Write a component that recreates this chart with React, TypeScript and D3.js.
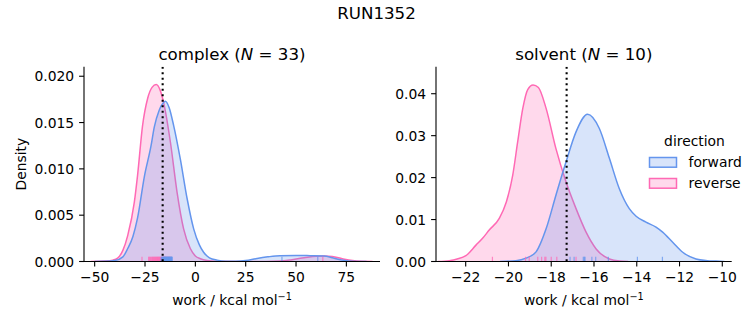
import React from "react";
import * as d3 from "d3";

const BLUE = "#6495ED";
const PINK = "#FF69B4";
const FONT = "DejaVu Sans, sans-serif";
const TEXT = "#000000";

// ---------- data ----------
const suptitle = "RUN1352";
const directions = ["forward", "reverse"];

// complex panel: KDE curves [work, density]
const complexForwardKde: [number, number][] = [
  [-50, 0], [-45, 0.00002], [-40, 0.0001], [-36, 0.0005], [-33.6, 0.0014], [-31, 0.0027],
  [-28.7, 0.0047], [-25.3, 0.0092], [-22, 0.0125], [-20.4, 0.0145], [-18, 0.0163],
  [-16, 0.0171], [-14.9, 0.0173], [-13, 0.0166], [-10.8, 0.0147], [-7.5, 0.0111],
  [-4.1, 0.0068], [-0.8, 0.0035], [2, 0.0018], [4.1, 0.001], [7, 0.0004], [10.8, 0.00015],
  [15, 0.00004], [20, 0.00003], [25, 0.0001], [30, 0.0003], [36, 0.0005], [42, 0.00063],
  [50, 0.00065], [57, 0.00063], [64, 0.0006], [68, 0.0004], [72, 0.0002], [76, 0.00006],
  [80, 0.00001], [85, 0],
];
const complexReverseKde: [number, number][] = [
  [-52, 0], [-48, 0.00002], [-45, 0.00005], [-41, 0.00015], [-38.6, 0.00036], [-36, 0.0012],
  [-33.6, 0.0028], [-30.3, 0.0064], [-28.7, 0.0093], [-26.2, 0.0147], [-23.7, 0.0176],
  [-21.5, 0.0188], [-19.4, 0.0191], [-17.5, 0.0185], [-15.7, 0.0171], [-12.4, 0.0129],
  [-9.1, 0.0075], [-5.8, 0.0035], [-2.5, 0.0014], [0, 0.0006], [2.5, 0.0003], [5.8, 0.0001],
  [10, 0.00002], [20, 0], [35, 0.00001], [42, 0.00005], [48, 0.0002], [54, 0.0004],
  [60, 0.00058], [64, 0.0006], [68, 0.00055], [73, 0.0003], [78, 0.0001], [83, 0.00002], [88, 0],
];
const complexForwardWork = [
  -17.0, -16.6, -16.3, -16.1, -15.8, -15.6, -15.3, -15.2, -15.0, -14.9, -14.7, -14.5, -14.2,
  -14.0, -13.9, -13.6, -13.4, -13.3, -13.1, -12.9, -12.8, -12.6, -12.4, -12.2, -12.0, -11.9,
  -11.7, -11.5, -14.4, -13.7, -15.5, 43.0, 60.8,
];
const complexReverseWork = [
  -26.5, -23.2, -22.8, -22.3, -21.9, -21.5, -21.2, -20.8, -20.5, -20.2, -19.9, -19.6, -19.3,
  -19.0, -18.8, -18.5, -18.2, -18.0, -17.7, -17.4, -17.1, -16.8, -16.5, -16.2, -15.9, -15.5,
  -15.0, -14.6, -14.2, -13.5, -12.8, -12.2, 63.3,
];
const complexEstimate = -16.24;

// solvent panel
const solventForwardKde: [number, number][] = [
  [-20.4, 0], [-19.65, 0.0002], [-19.18, 0.0008], [-18.71, 0.0023], [-18.24, 0.0078],
  [-17.78, 0.0158], [-17.31, 0.0237], [-16.84, 0.0309], [-16.3, 0.0351], [-15.75, 0.0317],
  [-15.28, 0.0246], [-14.82, 0.0174], [-14.35, 0.0126], [-14.03, 0.0108], [-13.57, 0.0094],
  [-13.1, 0.0082], [-12.79, 0.007], [-12.32, 0.0046], [-11.85, 0.0022], [-11.23, 0.0006],
  [-10.7, 0.0002], [-10.29, 0.0001], [-9.9, 0],
];
const solventReverseKde: [number, number][] = [
  [-23.3, 0], [-22.77, 0.0002], [-22.4, 0.0006], [-21.99, 0.0014], [-21.52, 0.0039],
  [-21.2, 0.0056], [-20.9, 0.0075], [-20.43, 0.0103], [-20.1, 0.0142], [-19.8, 0.0206],
  [-19.57, 0.0285], [-19.33, 0.0365], [-19.1, 0.041], [-18.85, 0.0421], [-18.6, 0.0415],
  [-18.24, 0.0365], [-17.78, 0.0269], [-17.31, 0.019], [-16.84, 0.0126], [-16.37, 0.007],
  [-15.9, 0.003], [-15.28, 0.0006], [-14.8, 0.0001], [-14.4, 0],
];
const solventForwardWork = [-17.12, -16.93, -16.5, -16.42, -16.45, -16.1, -15.92, -15.33, -13.97, -12.8];
const solventReverseWork = [-20.75, -19.2, -19.03, -18.63, -18.45, -18.3, -18.25, -18.0, -17.74, -16.84];
const solventEstimate = -17.28;

const complexXTicks = [-50, -25, 0, 25, 50, 75];
const complexYTicks = [0, 0.005, 0.01, 0.015, 0.02];
const solventXTicks = [-22, -20, -18, -16, -14, -12, -10];
const solventYTicks = [0, 0.01, 0.02, 0.03, 0.04];

// ---------- layout ----------
const W = 753;
const H = 325;
const TOP = 66.7;
const BOTTOM = 261.5;
const TICK = 4.9;
const TICK_FS = 13.89;
const TITLE_FS = 16.67;

const fmtMinus = (s: string) => s.replace("-", "\u2212");

interface PanelProps {
  left: number;
  right: number;
  xDomain: [number, number];
  yDomain: [number, number];
  xTicks: number[];
  yTicks: number[];
  yFmt: (v: number) => string;
  name: string;
  n: number;
  fwdKde: [number, number][];
  revKde: [number, number][];
  fwdWork: number[];
  revWork: number[];
  estimate: number;
  showYLabel: boolean;
  clipId: string;
}

function Panel(p: PanelProps) {
  const x = d3.scaleLinear().domain(p.xDomain).range([p.left, p.right]);
  const y = d3.scaleLinear().domain(p.yDomain).range([BOTTOM, TOP]);
  const area = d3
    .area<[number, number]>()
    .x((d) => x(d[0]))
    .y0(y(0))
    .y1((d) => y(d[1]))
    .curve(d3.curveMonotoneX);
  const line = d3
    .line<[number, number]>()
    .x((d) => x(d[0]))
    .y((d) => y(d[1]))
    .curve(d3.curveMonotoneX);
  const cx = (p.left + p.right) / 2;
  const rugH = (BOTTOM - TOP) * 0.025;
  const series = [
    { kde: p.revKde, work: p.revWork, color: PINK },
    { kde: p.fwdKde, work: p.fwdWork, color: BLUE },
  ];
  return (
    <g>
      <defs>
        <clipPath id={p.clipId}>
          <rect x={p.left} y={TOP} width={p.right - p.left} height={BOTTOM - TOP} />
        </clipPath>
      </defs>
      <g clipPath={`url(#${p.clipId})`}>
        {series.map((s, i) => (
          <g key={i}>
            <path d={area(s.kde) || ""} fill={s.color} fillOpacity={0.25} stroke="none" />
            <path d={line(s.kde) || ""} fill="none" stroke={s.color} strokeWidth={1.5} />
          </g>
        ))}
        {series.map((s, i) =>
          s.work.map((w, j) => (
            <line
              key={`${i}-${j}`}
              x1={x(w)}
              x2={x(w)}
              y1={BOTTOM}
              y2={BOTTOM - rugH}
              stroke={s.color}
              strokeWidth={1.2}
              strokeOpacity={0.75}
            />
          ))
        )}
        <line
          x1={x(p.estimate)}
          x2={x(p.estimate)}
          y1={TOP}
          y2={BOTTOM}
          stroke="black"
          strokeWidth={2.1}
          strokeDasharray="2.1,3.4"
        />
      </g>
      {/* spines */}
      <line x1={p.left} x2={p.left} y1={TOP} y2={BOTTOM} stroke="black" strokeWidth={1.1} />
      <line x1={p.left} x2={p.right} y1={BOTTOM} y2={BOTTOM} stroke="black" strokeWidth={1.1} />
      {/* x ticks */}
      {p.xTicks.map((t) => (
        <g key={t}>
          <line x1={x(t)} x2={x(t)} y1={BOTTOM} y2={BOTTOM + TICK} stroke="black" strokeWidth={1.1} />
          <text
            x={x(t)}
            y={BOTTOM + TICK + 4.9 + 10.6}
            textAnchor="middle"
            fontSize={TICK_FS}
            fontFamily={FONT}
            fill={TEXT}
          >
            {fmtMinus(String(t))}
          </text>
        </g>
      ))}
      {/* y ticks */}
      {p.yTicks.map((t) => (
        <g key={t}>
          <line x1={p.left - TICK} x2={p.left} y1={y(t)} y2={y(t)} stroke="black" strokeWidth={1.1} />
          <text
            x={p.left - TICK - 4.9}
            y={y(t) + 5.1}
            textAnchor="end"
            fontSize={TICK_FS}
            fontFamily={FONT}
            fill={TEXT}
          >
            {p.yFmt(t)}
          </text>
        </g>
      ))}
      {/* x label */}
      <text x={cx} y={305} textAnchor="middle" fontSize={TICK_FS} fontFamily={FONT} fill={TEXT}>
        work / kcal mol
        <tspan dy={-5.5} fontSize={9.7}>
          {"\u22121"}
        </tspan>
      </text>
      {p.showYLabel && (
        <text
          transform={`translate(26,${(TOP + BOTTOM) / 2}) rotate(-90)`}
          textAnchor="middle"
          fontSize={TICK_FS}
          fontFamily={FONT}
          fill={TEXT}
        >
          Density
        </text>
      )}
      {/* title */}
      <text x={cx} y={59.5} textAnchor="middle" fontSize={TITLE_FS} fontFamily={FONT} fill={TEXT}>
        {p.name} (<tspan fontStyle="italic">N</tspan> = {p.n})
      </text>
    </g>
  );
}

export default function App() {
  const legendColors = [BLUE, PINK];
  return (
    <svg
      width={W}
      height={H}
      style={{ position: "absolute", left: 0, top: 0, background: "white" }}
      xmlns="http://www.w3.org/2000/svg"
    >
      <rect width={W} height={H} fill="white" />
      <text x={376.5} y={19} textAnchor="middle" fontSize={TITLE_FS} fontFamily={FONT} fill={TEXT}>
        {suptitle}
      </text>
      <Panel
        left={84}
        right={380}
        xDomain={[-55.3, 91.7]}
        yDomain={[0, 0.02103]}
        xTicks={complexXTicks}
        yTicks={complexYTicks}
        yFmt={(v) => v.toFixed(3)}
        name="complex"
        n={33}
        fwdKde={complexForwardKde}
        revKde={complexReverseKde}
        fwdWork={complexForwardWork}
        revWork={complexReverseWork}
        estimate={complexEstimate}
        showYLabel={true}
        clipId="clipA"
      />
      <Panel
        left={436}
        right={731.7}
        xDomain={[-23.389, -9.56]}
        yDomain={[0, 0.04644]}
        xTicks={solventXTicks}
        yTicks={solventYTicks}
        yFmt={(v) => v.toFixed(2)}
        name="solvent"
        n={10}
        fwdKde={solventForwardKde}
        revKde={solventReverseKde}
        fwdWork={solventForwardWork}
        revWork={solventReverseWork}
        estimate={solventEstimate}
        showYLabel={false}
        clipId="clipB"
      />
      {/* legend */}
      <text x={694.5} y={146} textAnchor="middle" fontSize={TICK_FS} fontFamily={FONT} fill={TEXT}>
        direction
      </text>
      {directions.map((d, i) => (
        <g key={d}>
          <rect
            x={649.5}
            y={157.5 + i * 21}
            width={27}
            height={9.7}
            fill={legendColors[i]}
            fillOpacity={0.25}
            stroke={legendColors[i]}
            strokeWidth={1.5}
          />
          <text x={688.5} y={167 + i * 21} fontSize={TICK_FS} fontFamily={FONT} fill={TEXT}>
            {d}
          </text>
        </g>
      ))}
    </svg>
  );
}
